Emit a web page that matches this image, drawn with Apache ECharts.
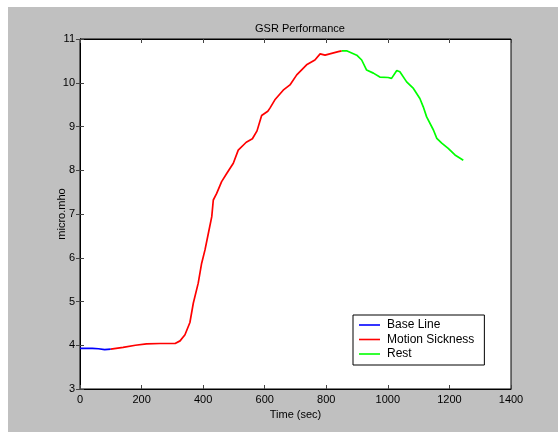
<!DOCTYPE html>
<html>
<head>
<meta charset="utf-8">
<script src="https://cdn.jsdelivr.net/npm/echarts@6/dist/echarts.min.js"></script>
<style>
html,body{margin:0;padding:0;background:#fff;}
#bg{position:absolute;left:8px;top:7px;width:550px;height:425px;background:#c0c0c0;}
#chart{position:absolute;left:0;top:0;width:558px;height:432px;}
</style>
</head>
<body>
<div id="bg"></div>
<div id="chart"></div>
<script>
const xTicks = [0, 200, 400, 600, 800, 1000, 1200, 1400];
const yTicks = [3, 4, 5, 6, 7, 8, 9, 10, 11];

const baseTime   = [0, 20, 40, 60, 64, 80, 100];
const baseValues = [3.93, 3.93, 3.93, 3.92, 3.90, 3.90, 3.91];

const sickTime   = [100, 140, 180, 216, 260, 309, 325, 341, 357, 368, 384, 395, 406, 417, 428, 433, 444, 460, 477, 498, 514, 540, 560, 575, 590, 610, 617, 633, 660, 682, 704, 736, 763, 780, 796, 839, 850];
const sickValues = [3.91, 3.95, 4.00, 4.03, 4.04, 4.04, 4.10, 4.24, 4.52, 4.96, 5.42, 5.87, 6.18, 6.56, 6.94, 7.32, 7.47, 7.74, 7.93, 8.16, 8.46, 8.64, 8.72, 8.90, 9.25, 9.35, 9.42, 9.61, 9.83, 9.95, 10.18, 10.41, 10.52, 10.66, 10.63, 10.71, 10.73];

const restTime   = [850, 866, 899, 915, 931, 953, 974, 1001, 1012, 1029, 1039, 1061, 1083, 1104, 1115, 1126, 1148, 1159, 1175, 1196, 1218, 1245];
const restValues = [10.73, 10.73, 10.63, 10.52, 10.29, 10.22, 10.13, 10.12, 10.10, 10.28, 10.25, 10.02, 9.87, 9.64, 9.45, 9.22, 8.92, 8.73, 8.62, 8.50, 8.35, 8.23];

const seriesNames = ['Base Line', 'Motion Sickness', 'Rest'];
const seriesColors = ['#0000ff', '#ff0000', '#00ff00'];

function pairs(xs, ys){ return xs.map((x, i) => [x, ys[i]]); }

const FONT = 'Liberation Sans, Arial, sans-serif';
const chart = echarts.init(document.getElementById('chart'), null, {renderer: 'canvas'});

const axisBase = {
  type: 'value',
  splitLine: {show: false},
  axisLine: {show: true, lineStyle: {color: '#000', width: 1}},
  axisTick: {show: true, inside: true, length: 4, lineStyle: {color: '#444'}}
};

chart.setOption({
  animation: false,
  backgroundColor: 'transparent',
  title: {
    text: 'GSR Performance',
    left: 295, top: 18, textAlign: 'center',
    textStyle: {fontFamily: FONT, fontSize: 11, fontWeight: 'normal', color: '#000'}
  },
  grid: {left: 80, top: 39, width: 431, height: 350, show: true, backgroundColor: '#fff', borderColor: '#000', borderWidth: 1},
  legend: {
    orient: 'vertical',
    left: 353, top: 315,
    backgroundColor: '#fff',
    borderColor: '#000', borderWidth: 1,
    padding: [4, 10, 5, 6],
    itemGap: 2.5,
    itemWidth: 21, itemHeight: 12,
    icon: 'path://M0,5.4 L21,5.4 L21,7 L0,7 Z',
    textStyle: {fontFamily: FONT, fontSize: 12, color: '#000', padding: [0, 0, 0, 2]},
    data: seriesNames
  },
  xAxis: [
    Object.assign({}, axisBase, {
      min: xTicks[0], max: xTicks[xTicks.length - 1], interval: 200,
      position: 'bottom',
      name: 'Time (sec)', nameLocation: 'middle', nameGap: 20,
      nameTextStyle: {fontFamily: FONT, fontSize: 11, color: '#000'},
      axisLabel: {fontFamily: FONT, fontSize: 11, color: '#000', margin: 5, formatter: v => String(v)}
    }),
    Object.assign({}, axisBase, {
      min: xTicks[0], max: xTicks[xTicks.length - 1], interval: 200,
      position: 'top', axisLabel: {show: false}
    })
  ],
  yAxis: [
    Object.assign({}, axisBase, {
      min: yTicks[0], max: yTicks[yTicks.length - 1], interval: 1,
      position: 'left',
      name: 'micro.mho', nameLocation: 'middle', nameGap: 13, nameRotate: 90,
      nameMoveOverlap: false,
      nameTextStyle: {fontFamily: FONT, fontSize: 11, color: '#000'},
      axisLabel: {fontFamily: FONT, fontSize: 11, color: '#000', margin: 5, formatter: v => String(v)}
    }),
    Object.assign({}, axisBase, {
      min: yTicks[0], max: yTicks[yTicks.length - 1], interval: 1,
      position: 'right', axisLabel: {show: false}
    })
  ],
  series: [
    {name: seriesNames[0], type: 'line', data: pairs(baseTime, baseValues), showSymbol: false, symbol: 'none',
     lineStyle: {color: seriesColors[0], width: 1.7}, itemStyle: {color: seriesColors[0]}},
    {name: seriesNames[1], type: 'line', data: pairs(sickTime, sickValues), showSymbol: false, symbol: 'none',
     lineStyle: {color: seriesColors[1], width: 1.7}, itemStyle: {color: seriesColors[1]}},
    {name: seriesNames[2], type: 'line', data: pairs(restTime, restValues), showSymbol: false, symbol: 'none',
     lineStyle: {color: seriesColors[2], width: 1.7}, itemStyle: {color: seriesColors[2]}}
  ]
});
</script>
</body>
</html>
